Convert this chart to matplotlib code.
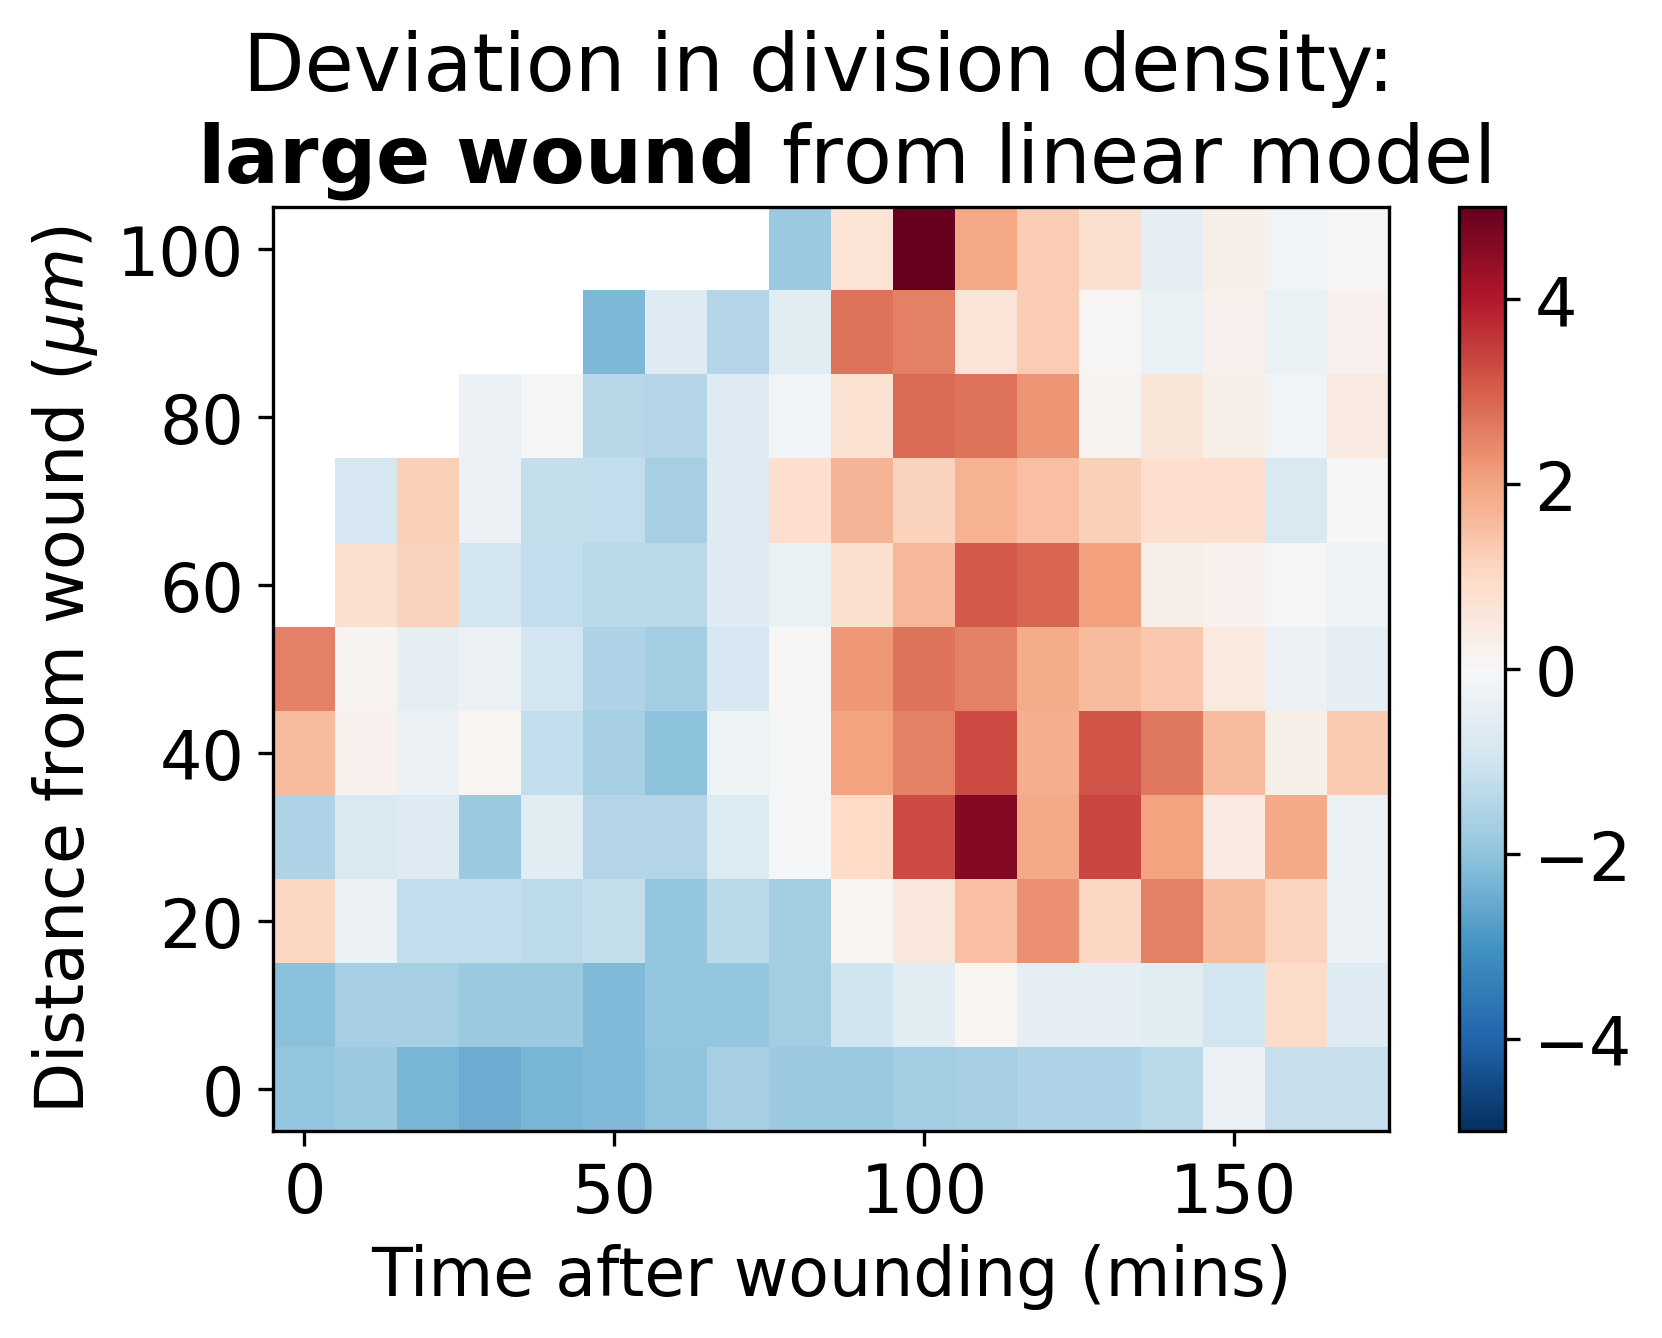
import numpy as np
import matplotlib
matplotlib.use("Agg")
import matplotlib.pyplot as plt

nan = np.nan
times = np.arange(0, 180, 10)
distances = np.arange(0, 110, 10)
row_0 = [-1.95,-1.85,-2.3,-2.5,-2.3,-2.2,-2.0,-1.65,-1.85,-1.85,-1.75,-1.65,-1.55,-1.55,-1.35,-0.3,-1.15,-1.15]
row_10 = [-2.1,-1.65,-1.65,-1.85,-1.85,-2.2,-1.95,-1.95,-1.75,-1.0,-0.55,0.1,-0.5,-0.45,-0.55,-0.95,0.9,-0.65]
row_20 = [1.05,-0.3,-1.25,-1.25,-1.3,-1.2,-1.95,-1.35,-1.75,0.1,0.55,1.5,2.3,1.05,2.5,1.6,1.1,-0.3]
row_30 = [-1.55,-0.75,-0.65,-1.85,-0.55,-1.45,-1.45,-0.7,-0.1,1.0,3.25,4.6,1.9,3.35,2.0,0.4,1.9,-0.3]
row_40 = [1.6,0.2,-0.3,0.1,-1.25,-1.65,-2.05,-0.25,-0.1,2.0,2.5,3.25,1.8,3.15,2.65,1.6,0.3,1.3]
row_50 = [2.5,0.15,-0.45,-0.3,-0.95,-1.55,-1.75,-0.85,0.05,2.15,2.7,2.5,1.85,1.6,1.35,0.5,-0.3,-0.5]
row_60 = [nan,0.8,1.15,-0.95,-1.25,-1.35,-1.35,-0.65,-0.35,0.8,1.65,3.05,2.9,2.05,0.3,0.2,-0.1,-0.25]
row_70 = [nan,-0.85,1.2,-0.3,-1.2,-1.25,-1.65,-0.65,0.85,1.7,1.15,1.75,1.5,1.2,0.85,0.85,-0.75,0.02]
row_80 = [nan,nan,nan,-0.3,-0.1,-1.4,-1.45,-0.65,-0.15,0.75,2.85,2.7,2.2,0.15,0.6,0.3,-0.15,0.45]
row_90 = [nan,nan,nan,nan,nan,-2.25,-0.65,-1.45,-0.55,2.7,2.5,0.65,1.25,0.05,-0.35,0.2,-0.35,0.2]
row_100 = [nan,nan,nan,nan,nan,nan,nan,nan,-1.85,0.7,5.0,1.95,1.25,0.8,-0.5,0.3,-0.15,-0.02]

grid = np.array([row_0,row_10,row_20,row_30,row_40,row_50,row_60,row_70,row_80,row_90,row_100])

W, H = 1662, 1339
fig = plt.figure(figsize=(W/300, H/300), dpi=300)
ax = fig.add_axes([0.1645, 0.1545, 0.671, 0.6905])
im = ax.imshow(grid, origin="lower", cmap="RdBu_r", vmin=-5, vmax=5,
               extent=[-5, 175, -5, 105], aspect="auto", interpolation="nearest")
ax.set_xticks([0, 50, 100, 150])
ax.set_yticks([0, 20, 40, 60, 80, 100])
ax.tick_params(labelsize=16)
ax.set_xlabel("Time after wounding (mins)", fontsize=16)
ax.set_ylabel(r"Distance from wound ($\mu m$)", fontsize=16)
ax.set_title("Deviation in division density: \n " + r"$\bf{large\ wound}$ from linear model", fontsize=19.2)
cax = fig.add_axes([0.8776, 0.1545, 0.028, 0.6905])
cb = fig.colorbar(im, cax=cax)
cb.ax.tick_params(labelsize=16)
fig.savefig("out.png", dpi=300)
